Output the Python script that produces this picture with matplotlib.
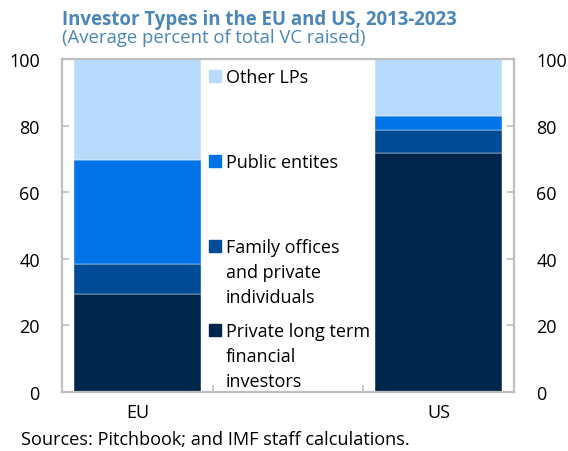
import matplotlib.pyplot as plt
import numpy as np

plt.rcParams['font.family'] = ['Open Sans', 'DejaVu Sans']

# data (average percent of total VC raised, 2013-2023)
regions = ["EU", "US"]
series = [["Private long term", "financial", "investors"],
          ["Family offices", "and private", "individuals"],
          ["Public entites"],
          ["Other LPs"]]
private_lt = [29.5, 71.7]
family_off = [8.8, 6.9]
public_ent = [31.4, 4.3]
other_lps = [30.3, 17.1]
colors = ["#00264B", "#004B96", "#0073E6", "#B8DBFD"]

values = [private_lt, family_off, public_ent, other_lps]

W, H = 568, 452
fig = plt.figure(figsize=(W / 100, H / 100), dpi=100)
ax_l, ax_t, ax_w, ax_h = 62, 60, 452, 333
ax = fig.add_axes([ax_l / W, 1 - (ax_t + ax_h) / H, ax_w / W, ax_h / H])

# EU at slot 0, legend sits in slot 1, US at slot 2
xpos = np.array([0, 2])
bottom = np.zeros(len(regions))
for vals, c in zip(values, colors):
    ax.bar(xpos, vals, width=0.84, bottom=bottom, color=c,
           edgecolor="white", linewidth=0.3)
    bottom += np.array(vals)

ax.set_xlim(-0.5, 2.5)
ax.set_ylim(0, 100)
ax.set_yticks(range(0, 101, 20))
ax.set_xticks(xpos)
ax.set_xticklabels(regions)
ax.set_xticks([0.5, 1.5], minor=True)

spine_c = "#BFBFBF"
for s in ax.spines.values():
    s.set_color(spine_c)
    s.set_linewidth(1.6)

fs = 13
ax.tick_params(axis="x", which="major", length=0, pad=8, labelsize=fs, colors="black")
ax.tick_params(axis="x", which="minor", direction="in", length=5, width=1.2, color=spine_c)
ax.tick_params(axis="y", direction="in", length=5, width=1.2, color=spine_c,
               labelsize=fs, labelcolor="black", left=True, right=True,
               labelleft=True, labelright=True, pad=16)
for t in ax.yaxis.get_major_ticks():
    t.label2.set_horizontalalignment("left")


def fx(px):
    return (px - ax_l) / ax_w


def fy(py):
    return (ax_t + ax_h - py) / ax_h


# legend drawn by hand inside the empty middle slot (pixel baselines)
legend_base = [337.3, 252.7, 168.3, 83.3]
step = 25
for lines, c, yb in zip(series, colors, legend_base):
    ax.add_patch(plt.Rectangle((fx(209), fy(yb)), 11.7 / ax_w, 12 / ax_h,
                               transform=ax.transAxes, color=c, clip_on=False))
    for i, line in enumerate(lines):
        ax.text(fx(225.7), fy(yb + i * step), line, transform=ax.transAxes,
                fontsize=fs, va="baseline", ha="left", color="black")

title_c = "#4A86B8"
fig.text(62 / W, 1 - 25 / H, "Investor Types in the EU and US, 2013-2023",
         fontsize=13.4, fontweight="bold", color=title_c, va="baseline")
fig.text(62 / W, 1 - 43 / H, "(Average percent of total VC raised)",
         fontsize=13.3, color=title_c, va="baseline")
fig.text(21 / W, 1 - 445 / H, "Sources: Pitchbook; and IMF staff calculations.",
         fontsize=13.1, color="black", va="baseline")

fig.savefig("out.png", dpi=100)
